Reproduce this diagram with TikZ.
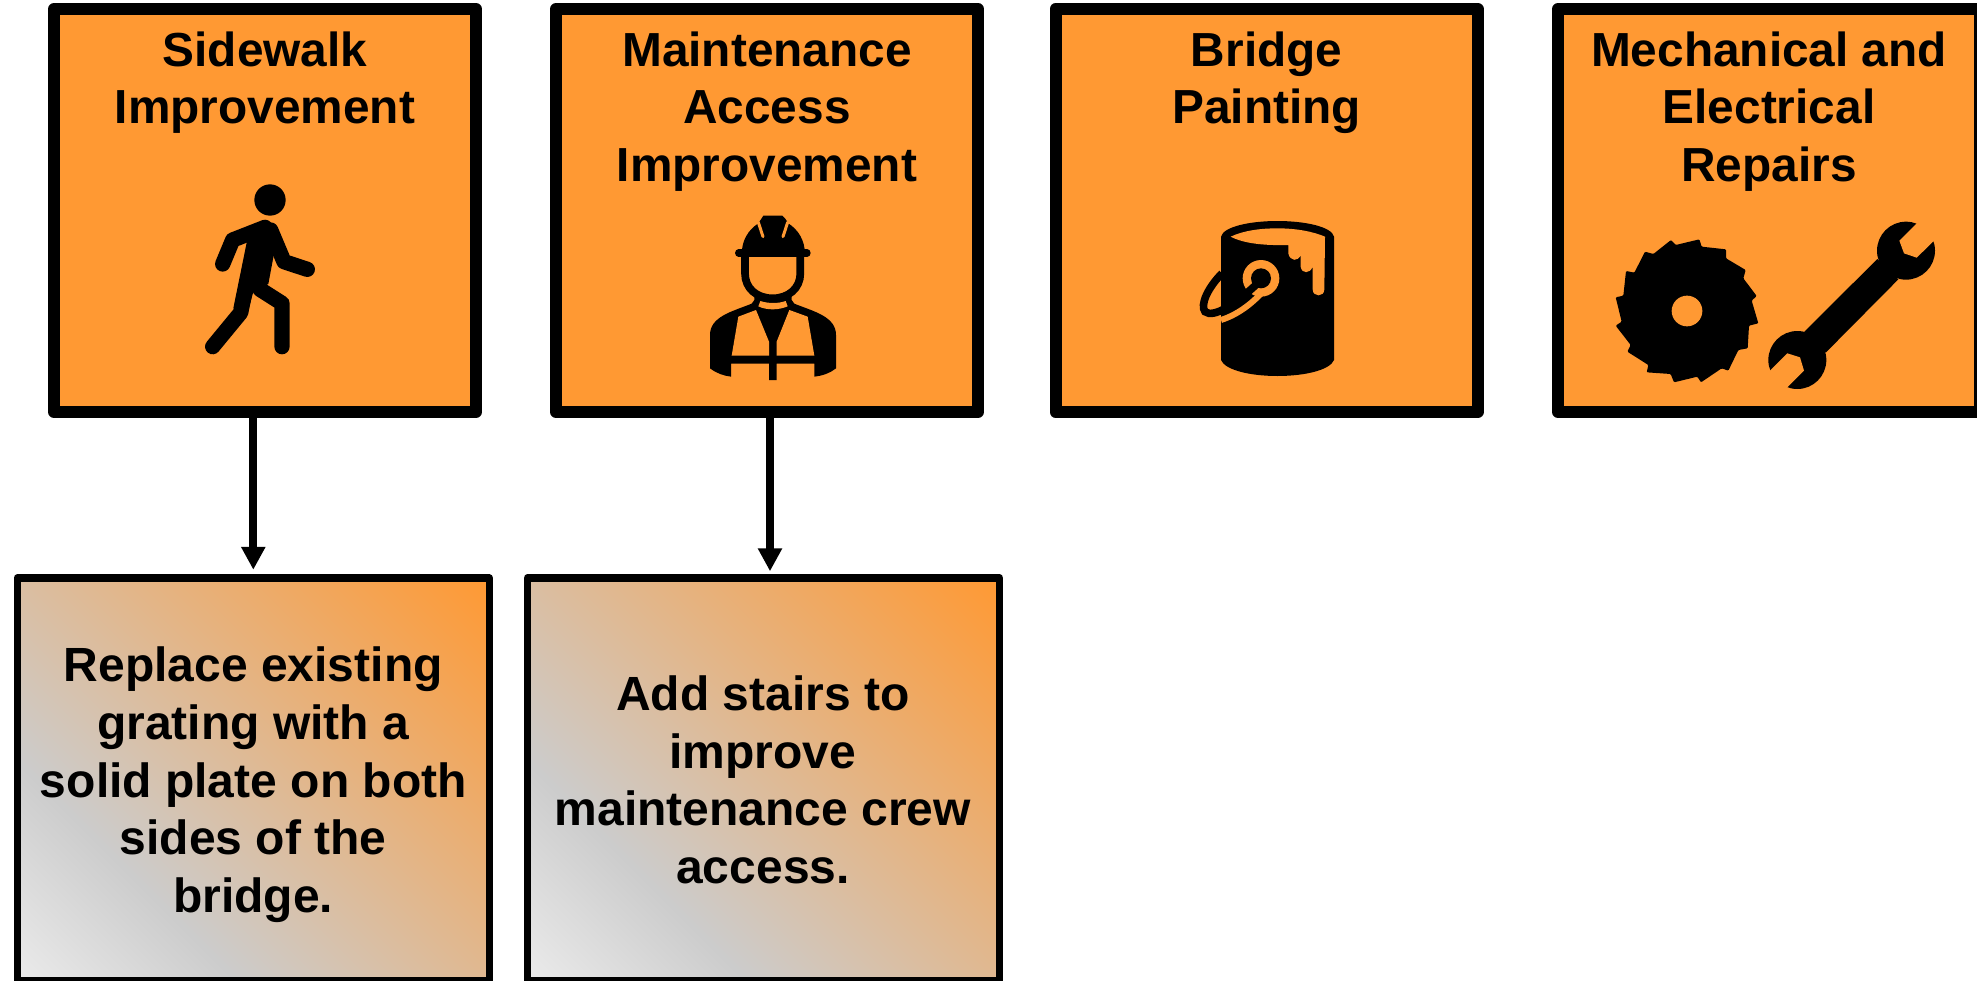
\documentclass[tikz,border=0pt]{standalone}
\usepackage{fontspec}
\setmainfont{Liberation Sans}
\usetikzlibrary{arrows.meta}
\definecolor{signorange}{HTML}{FF9933}
\pgfdeclareverticalshading{greyorange}{100bp}{color(0bp)=(black!8);color(14.64bp)=(black!8);color(32.3bp)=(black!20);color(85.36bp)=(signorange);color(100bp)=(signorange)}
\newcommand{\firstline}{\rule{0pt}{40pt}}
\tikzset{
  sign/.style={draw=black,line width=12pt,line join=round,fill=signorange,minimum width=422pt,minimum height=403pt,inner sep=0pt},
  detail/.style={draw=black,line width=7.5pt,line join=round,shading=greyorange,shading angle=-45,minimum width=472pt,minimum height=403pt,inner sep=0pt},
  label/.style={anchor=north,align=center,inner sep=0pt,outer sep=0pt,text=black,font=\fontsize{47.8}{57.6}\selectfont\bfseries},
  arr/.style={line width=8pt,draw=black,-{Triangle[length=23pt,width=23pt]}},
  limb/.style={line width=15.3pt,line cap=round,line join=round},
  unit/.style={x=0.33333pt,y=-0.33333pt}
}
\begin{document}
\begin{tikzpicture}[x=1pt,y=-1pt]
\path[use as bounding box] (0,0) rectangle (1977,980);
\node[sign] (b1) at (265,210.5) {};
\node[sign] (b2) at (767,210.5) {};
\node[sign] (b3) at (1266.6,210.5) {};
\node[sign] (b4) at (1769,210.5) {};
\node[detail] (d1) at (253.3,779.5) {};
\node[detail] (d2) at (763.5,779.5) {};
\draw[arr,shorten >=4.5pt] (d1.north |- b1.south) -- (d1.north);
\draw[arr,shorten >=3pt] ([xshift=3pt]b2.south) -- ([xshift=3pt]b2.south |- d2.north);
\node[label] (t1) at (265,26) {\firstline Sidewalk\\Improvement};
\node[label] (t2) at (767,26) {\firstline Maintenance\\Access\\Improvement};
\node[label] (t3) at (1266.6,26) {\firstline Bridge\\Painting};
\node[label] (t4) at (1769,26) {\firstline Mechanical and\\Electrical\\Repairs};
\node[label,font=\fontsize{48}{57.6}\selectfont\bfseries] (t5) at (253.3,641.8) {\firstline Replace existing\\grating with a\\solid plate on both\\sides of the\\bridge.};
\node[label,font=\fontsize{48}{57.6}\selectfont\bfseries] (t6) at (763,670.4) {\firstline Add stairs to\\improve\\maintenance crew\\access.};
% pedestrian
\begin{scope}[shift={(190,170)},unit]
\fill (240,90) circle[radius=47];
\draw[limb] (98,282) -- (128,210) -- (225,172);
\draw[limb] (352,298) -- (282,275) -- (242,180);
\draw[limb] (68,530) -- (152,428) -- (170,340);
\draw[limb] (276,530) -- (276,400) -- (210,358);
\fill (170,218) -- (215,153) -- (262,175) -- (250,262) -- (235,342) -- (190,365) -- (175,420) -- (130,415) -- cycle;
\end{scope}
% worker
\begin{scope}[shift={(695,205)},unit]
\fill (178,270) -- (178,285) -- (170,296) .. controls (110,320) and (45,335) .. (45,390) -- (45,490) .. controls (65,505) and (85,512) .. (108,515) -- (108,476) -- (222,476) -- (222,525) -- (245,525) -- (245,476) -- (358,476) -- (358,515) .. controls (382,512) and (405,505) .. (423,490) -- (423,390) .. controls (423,335) and (358,320) .. (298,296) -- (290,285) -- (290,270) -- cycle;
\fill[signorange] (130,335) -- (183,315) -- (222,410) -- (222,452) -- (110,452) -- cycle;
\fill[signorange] (338,335) -- (283,315) -- (245,410) -- (245,452) -- (358,452) -- cycle;
\fill[signorange] (196,288) .. controls (220,296) and (250,296) .. (272,288) -- (278,304) .. controls (250,316) and (215,316) .. (190,304) -- cycle;
\draw[line width=7.7pt,fill=signorange] (150,145) -- (150,205) .. controls (150,250) and (185,280) .. (233,280) .. controls (280,280) and (316,250) .. (316,205) -- (316,145);
\fill (140,150) .. controls (140,105) and (160,75) .. (190,55) -- (200,40) -- (205,32) -- (262,32) -- (270,40) -- (280,55) .. controls (310,75) and (330,105) .. (330,150) -- cycle;
\draw[line width=7.3pt,line cap=round] (131,144) -- (336,144);
\draw[signorange,line width=3pt,line cap=round] (190,52) -- (204,95);
\draw[signorange,line width=3pt,line cap=round] (278,52) -- (264,95);
\end{scope}
% bucket
\begin{scope}[shift={(1190,210)},unit]
\fill (93,80) .. controls (100,50) and (180,33) .. (262,33) .. controls (345,33) and (425,50) .. (432,80) -- (432,450) .. controls (420,480) and (345,498) .. (262,498) .. controls (180,498) and (105,480) .. (93,450) -- cycle;
\fill[signorange] (122,80) .. controls (160,62) and (210,55) .. (262,55) .. controls (320,55) and (370,65) .. (405,80) -- (403,238) .. controls (403,262) and (368,262) .. (368,238) -- (368,170) .. controls (360,192) and (335,192) .. (332,170) -- (332,135) .. controls (325,155) and (300,155) .. (295,130) -- (295,105) .. controls (220,107) and (160,100) .. (122,80) -- cycle;
\fill[signorange] (213,205) circle[radius=55];
\fill (213,205) circle[radius=30];
\draw[signorange,line width=6pt] (93,330) .. controls (140,315) and (180,285) .. (212,252);
\draw[line width=7.6pt] (96,190) .. controls (52,235) and (30,285) .. (45,305) .. controls (70,325) and (135,285) .. (208,215);
\end{scope}
% saw
\begin{scope}[shift={(1600,210)},unit]
\fill[rounded corners=1pt] (298,88) -- (305,110) -- (378,118) -- (378,145) -- (437,180) -- (430,205) -- (470,258) -- (455,272) -- (475,340) -- (447,347) -- (443,415) -- (415,420) -- (385,482) -- (365,475) -- (303,517) -- (292,500) -- (222,517) -- (212,492) -- (140,487) -- (145,465) -- (82,425) -- (92,405) -- (47,347) -- (65,335) -- (47,262) -- (70,257) -- (78,183) -- (103,188) -- (135,125) -- (160,132) -- (213,90) -- (227,105) -- cycle;
\fill[signorange] (261,303) circle[radius=46];
% wrench
\fill (832,147) -- (895,208) -- (677,428) -- (613,365) -- cycle;
\fill (918,122) circle[radius=87];
\fill (592,450) circle[radius=87];
\fill[signorange] (912,130) -- (898,92) -- (980,10) -- (1034,61) -- (950,143) -- cycle;
\fill[signorange] (562,430) -- (600,442) -- (612,482) -- (530,564) -- (480,512) -- cycle;
\end{scope}
\end{tikzpicture}
\end{document}
